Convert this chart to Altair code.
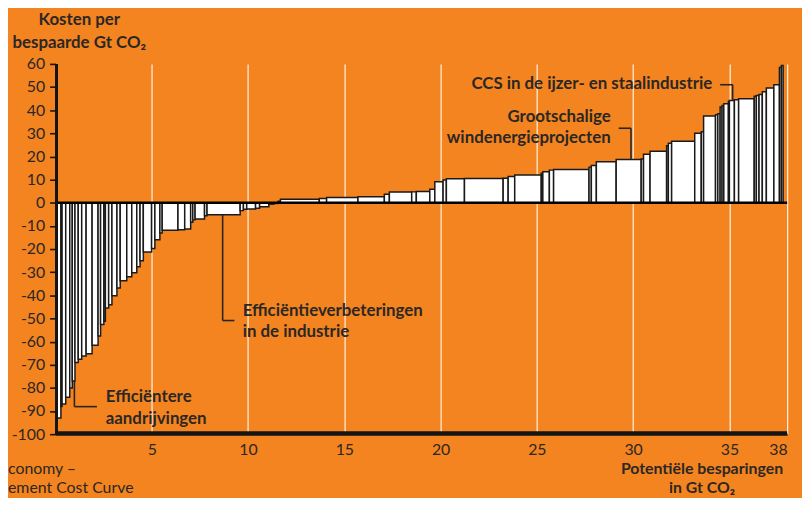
import altair as alt
import pandas as pd

# Bar boundaries along the cumulative abatement axis (Gt CO2)
edges = [0.05, 0.28, 0.34, 0.53, 0.74, 0.87, 1.01, 1.18, 1.36, 1.59, 1.90, 2.21, 2.34, 2.51,
         2.59, 2.76, 2.93, 3.19, 3.36, 3.70, 3.96, 4.22, 4.39, 4.56, 4.99, 5.16, 5.42, 5.54,
         6.36, 6.71, 7.02, 7.13, 7.25, 7.74, 7.87, 9.59, 9.76, 9.93, 10.39, 10.60, 11.08,
         11.34, 11.56, 11.68, 13.70, 14.08, 15.71, 17.08, 17.34, 18.50, 18.74, 19.44, 19.70,
         20.13, 20.30, 21.24, 23.25, 23.51, 23.85, 25.23, 25.31, 25.65, 25.87, 27.71, 27.83,
         28.09, 29.12, 30.42, 30.54, 30.88, 31.74, 31.83, 32.00, 33.20, 33.54, 33.66, 34.28,
         34.40, 34.52, 34.62, 34.71, 34.95, 35.00, 35.26, 35.48, 36.29, 36.40, 36.54, 36.71,
         36.92, 37.31, 37.60, 37.70, 37.79]

# Cost per saved tonne for each bar
costs = [-93, -88, -87, -84, -80, -77, -69, -67.6, -66.2, -65.2, -61.6, -57.6, -52.6, -51.2,
         -45.5, -44.1, -40.2, -36.8, -33.7, -32, -30.2, -27.7, -25.1, -21.3, -19.8, -16, -13.1,
         -11.9, -11.7, -11.3, -8.4, -7.4, -7, -5.6, -5.2, -3.4, -2.8, -2.7, -2.4, -1.7, -0.6,
         -0.3, 0.7, 1.5, 1.8, 2.3, 2.6, 3.7, 4.6, 4.7, 4.9, 5.8, 9.1, 9.8, 10.4, 10.5, 10.6,
         11.3, 12, 12.7, 13.4, 14.1, 14.4, 15.4, 16.1, 17.7, 18.7, 18.9, 21, 22.3, 24.6, 25.7,
         26.6, 30, 30.7, 37.5, 38, 38.5, 41.4, 42, 42.8, 43.8, 44.2, 44.5, 44.9, 46, 46.3, 46.8,
         48, 49.6, 51, 58.5, 59.3]

x_ticks = [5, 10, 15, 20, 25, 30, 35, 38]
y_ticks = list(range(-100, 61, 10))
x_range = [0, 38]
y_range = [-100, 60]

ann_left_text = ["Efficiëntere\naandrijvingen", "Efficiëntieverbeteringen\nin de industrie",
                 "CCS in de ijzer- en staalindustrie"]
ann_left_x = [2.61, 9.72, 21.6]
ann_left_y = [-86.0, -48.8, 49.3]

ann_right_text = ["Grootschalige\nwindenergieprojecten"]
ann_right_x = [28.84]
ann_right_y = [35.1]

lead_x1 = [0.98, 0.98, 8.68, 8.68, 29.25, 29.89, 34.52, 35.17]
lead_y1 = [-77.0, -88.1, -5.2, -50.9, 32.2, 32.2, 51.0, 51.0]
lead_x2 = [0.98, 2.15, 8.68, 9.29, 29.89, 29.89, 35.17, 35.17]
lead_y2 = [-88.1, -88.1, -50.9, -50.9, 32.2, 18.7, 51.0, 44.2]

y_title = "Kosten per\nbespaarde Gt CO₂"
x_title = "Potentiële besparingen\nin Gt CO₂"
source_lines = ["conomy –", "ement Cost Curve"]

FONT = "Lato"
TXT = "#2b2724"
ORANGE = "#F4841F"
INK = "#141414"

bars_df = pd.DataFrame({"x0": edges[:-1], "x1": edges[1:], "cost": costs})
bars_df["base"] = 0.0

xscale = alt.Scale(domain=x_range, nice=False, zero=False)
yscale = alt.Scale(domain=y_range, nice=False)

xaxis = alt.Axis(values=x_ticks, grid=True, gridColor="#FFF3E6", gridWidth=1.2, ticks=False,
                 domain=True, domainColor=INK, domainWidth=2,
                 labelFont=FONT, labelFontSize=16, labelColor=TXT,
                 labelPadding=8, format="d", labelOverlap=False, title=None)

yaxis = alt.Axis(values=y_ticks, grid=False, domain=True, domainColor=INK, domainWidth=2,
                 ticks=True, tickColor=INK, tickSize=6, tickWidth=1.6,
                 labelFont=FONT, labelFontSize=16, labelColor=TXT, labelPadding=5,
                 labelOverlap=False, labelExpr="'' + datum.value", title=None)


def X(field):
    return alt.X(field, type="quantitative", scale=xscale, axis=xaxis)


def Y(field):
    return alt.Y(field, type="quantitative", scale=yscale, axis=yaxis)


bars = alt.Chart(bars_df).mark_rect(fill="white", stroke="#1a1a1a", strokeWidth=1.5).encode(
    x=X("x0"), x2="x1", y=Y("cost"), y2="base",
)

zero = alt.Chart(pd.DataFrame({"v": [0.0]})).mark_rule(color="black", strokeWidth=2.5).encode(
    y=Y("v")
)

# axis lines drawn as marks, kept just inside the plot frame
frame_left = alt.Chart(pd.DataFrame({"a": [y_range[0]], "b": [y_range[1]]})).mark_rect(
    color=INK
).encode(x=alt.value(0), x2=alt.value(2.5), y=Y("a"), y2="b")
frame_bottom = alt.Chart(pd.DataFrame({"a": [x_range[0]], "b": [x_range[1]]})).mark_rule(
    color=INK, strokeWidth=3
).encode(y=alt.value(372.5), x=X("a"), x2="b")

lead_df = pd.DataFrame({"lx1": lead_x1, "ly1": lead_y1, "lx2": lead_x2, "ly2": lead_y2})
leaders = alt.Chart(lead_df).mark_rule(color="#2a2420", strokeWidth=1.6).encode(
    x=X("lx1"), x2="lx2", y=Y("ly1"), y2="ly2",
)

left_df = pd.DataFrame({"t": ann_left_text, "ax": ann_left_x, "ay": ann_left_y})
left_txt = alt.Chart(left_df).mark_text(
    align="left", baseline="alphabetic", lineBreak="\n", lineHeight=22,
    font=FONT, fontSize=17, fontWeight="bold", color=TXT
).encode(x=X("ax"), y=Y("ay"), text="t:N")

right_df = pd.DataFrame({"t": ann_right_text, "ax": ann_right_x, "ay": ann_right_y})
right_txt = alt.Chart(right_df).mark_text(
    align="right", baseline="alphabetic", lineBreak="\n", lineHeight=22,
    font=FONT, fontSize=17, fontWeight="bold", color=TXT
).encode(x=X("ax"), y=Y("ay"), text="t:N")

ytitle = alt.Chart(pd.DataFrame({"t": [y_title]})).mark_text(
    align="center", baseline="alphabetic", lineBreak="\n", lineHeight=23,
    font=FONT, fontSize=17, fontWeight="bold", color=TXT
).encode(x=alt.value(24), y=alt.value(-39), text="t:N")

xtitle = alt.Chart(pd.DataFrame({"t": [x_title]})).mark_text(
    align="center", baseline="alphabetic", lineBreak="\n", lineHeight=19,
    font=FONT, fontSize=16, fontWeight="bold", color=TXT
).encode(x=alt.value(653), y=alt.value(414), text="t:N")

src_df = pd.DataFrame({"t": ["\n".join(source_lines)]})
src = alt.Chart(src_df).mark_text(
    align="left", baseline="alphabetic", lineBreak="\n", lineHeight=19,
    font=FONT, fontSize=16, color=TXT
).encode(x=alt.value(-48), y=alt.value(414), text="t:N")

chart = alt.layer(bars, zero, frame_left, frame_bottom, leaders, left_txt, right_txt,
                  ytitle, xtitle, src).properties(
    width=739, height=374, autosize="none",
    padding={"left": 48, "top": 54, "right": 15, "bottom": 62},
).configure(background=ORANGE).configure_view(stroke=None)

chart.save("out.html", embed_options={"renderer": "svg", "actions": False})
